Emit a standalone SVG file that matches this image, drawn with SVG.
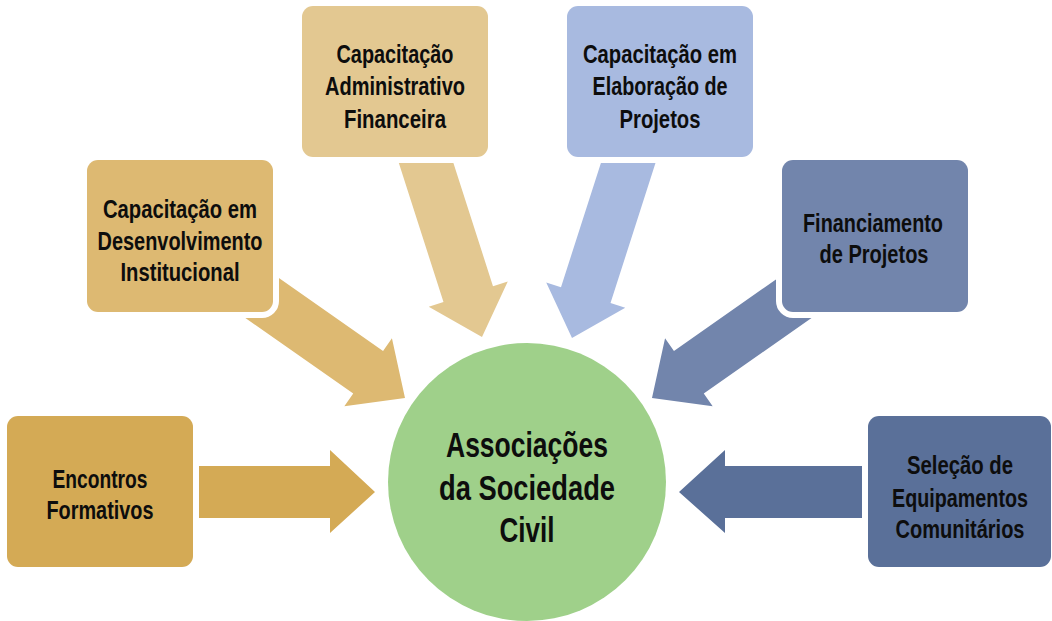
<svg xmlns="http://www.w3.org/2000/svg" width="1052" height="621" viewBox="0 0 1052 621">
<style>
.lbl{font-family:"Liberation Sans Narrow","Liberation Sans",Arial,sans-serif;font-weight:bold;font-size:26px;fill:#0d0d0d;text-anchor:middle}
.big{font-size:35px}
.box{stroke:#fff;stroke-width:12;paint-order:stroke}
</style>
<defs>
<polygon id="arr" points="-200,-26 -45,-26 -45,-41.5 0,0 -45,41.5 -45,26 -200,26"/>
</defs>
<rect width="1052" height="621" fill="#fff"/>
<g id="connectors">
<polygon points="198,466 330,466 330,450 375,492 330,533 330,518 198,518" fill="#D4AA55"/>
<polygon points="862,466 725,466 725,450 679,492 725,533 725,518 862,518" fill="#5A7099"/>
<use href="#arr" transform="translate(405,398) rotate(35)" fill="#DDB972"/>
<use href="#arr" transform="translate(482,337) rotate(72.2)" fill="#E3C891"/>
<use href="#arr" transform="translate(572,338) rotate(107.8)" fill="#A8BAE0"/>
<use href="#arr" transform="translate(652,398) rotate(145)" fill="#7285AC"/>
</g>
<g id="center">
<circle cx="527" cy="482" r="139" fill="#9FD08A"/>
<text class="lbl big" x="527" y="457" textLength="162" lengthAdjust="spacingAndGlyphs">Associações</text>
<text class="lbl big" x="527" y="500" textLength="176" lengthAdjust="spacingAndGlyphs">da Sociedade</text>
<text class="lbl big" x="527" y="542" textLength="55" lengthAdjust="spacingAndGlyphs">Civil</text>
</g>
<g id="encontros">
<rect class="box" x="7" y="416" width="186" height="151" rx="11" fill="#D4AA55"/>
<text class="lbl" x="100" y="488" textLength="95" lengthAdjust="spacingAndGlyphs">Encontros</text>
<text class="lbl" x="100" y="519" textLength="107" lengthAdjust="spacingAndGlyphs">Formativos</text>
</g>
<g id="desenvolvimento">
<rect class="box" x="87" y="160" width="186" height="152" rx="11" fill="#DDB972"/>
<text class="lbl" x="180" y="218" textLength="154" lengthAdjust="spacingAndGlyphs">Capacitação em</text>
<text class="lbl" x="180" y="250" textLength="165" lengthAdjust="spacingAndGlyphs">Desenvolvimento</text>
<text class="lbl" x="180" y="281" textLength="119" lengthAdjust="spacingAndGlyphs">Institucional</text>
</g>
<g id="administrativo">
<rect class="box" x="302" y="6" width="186" height="151" rx="11" fill="#E3C891"/>
<text class="lbl" x="395" y="63" textLength="117" lengthAdjust="spacingAndGlyphs">Capacitação</text>
<text class="lbl" x="395" y="95" textLength="140" lengthAdjust="spacingAndGlyphs">Administrativo</text>
<text class="lbl" x="395" y="128" textLength="102" lengthAdjust="spacingAndGlyphs">Financeira</text>
</g>
<g id="elaboracao">
<rect class="box" x="567" y="6" width="186" height="151" rx="11" fill="#A8BAE0"/>
<text class="lbl" x="660" y="63" textLength="154" lengthAdjust="spacingAndGlyphs">Capacitação em</text>
<text class="lbl" x="660" y="95" textLength="135" lengthAdjust="spacingAndGlyphs">Elaboração de</text>
<text class="lbl" x="660" y="128" textLength="81" lengthAdjust="spacingAndGlyphs">Projetos</text>
</g>
<g id="financiamento">
<rect class="box" x="782" y="160" width="186" height="152" rx="11" fill="#7285AC"/>
<text class="lbl" x="873" y="232" textLength="140" lengthAdjust="spacingAndGlyphs">Financiamento</text>
<text class="lbl" x="874" y="263" textLength="109" lengthAdjust="spacingAndGlyphs">de Projetos</text>
</g>
<g id="selecao">
<rect class="box" x="868" y="416" width="183" height="151" rx="11" fill="#5A7099"/>
<text class="lbl" x="960" y="474" textLength="106" lengthAdjust="spacingAndGlyphs">Seleção de</text>
<text class="lbl" x="960" y="507" textLength="136" lengthAdjust="spacingAndGlyphs">Equipamentos</text>
<text class="lbl" x="960" y="538" textLength="129" lengthAdjust="spacingAndGlyphs">Comunitários</text>
</g>
</svg>
